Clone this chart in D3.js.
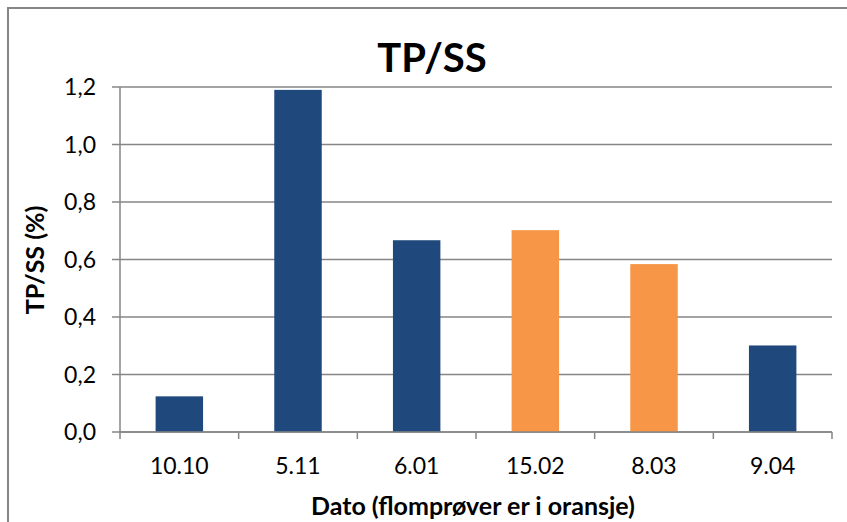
<!DOCTYPE html>
<html lang="no">
<head>
<meta charset="utf-8">
<title>TP/SS</title>
<script src="https://cdn.jsdelivr.net/npm/d3@7"></script>
<style>
  body { margin: 0; background: #fff; }
  text { font-family: Lato, "Open Sans", sans-serif; fill: #000; }
</style>
</head>
<body>
<script>
// data
var dates = ["10.10", "5.11", "6.01", "15.02", "8.03", "9.04"];
var values = [0.124, 1.19, 0.667, 0.702, 0.584, 0.301];
var flood = [false, false, false, true, true, false];   // flomprøver (oransje)
var yTicks = [0, 0.2, 0.4, 0.6, 0.8, 1.0, 1.2];

var w = 847, h = 522;
var plotL = 120, plotR = 832, plotT = 87, plotB = 432;

var svg = d3.select("body").append("svg")
    .attr("width", w)
    .attr("height", h);

// chart border (right and bottom edges fall outside the picture)
svg.append("rect")
    .attr("x", 8).attr("y", 8)
    .attr("width", 860).attr("height", 540)
    .attr("fill", "none")
    .attr("stroke", "#868686")
    .attr("stroke-width", 2);

var x = d3.scaleBand()
    .domain(dates)
    .range([plotL, plotR])
    .paddingInner(0.6)
    .paddingOuter(0.3);

var y = d3.scaleLinear()
    .domain([0, 1.2])
    .range([plotB, plotT]);

var fmt = function(d) { return d3.format(".1f")(d).replace(".", ","); };

// gridlines + y ticks
svg.selectAll("line.grid")
    .data(yTicks)
    .enter().append("line")
    .attr("class", "grid")
    .attr("x1", plotL - 8).attr("x2", plotR)
    .attr("y1", function(d) { return y(d); })
    .attr("y2", function(d) { return y(d); })
    .attr("stroke", "#868686")
    .attr("stroke-width", 1.5);

svg.selectAll("text.ytick")
    .data(yTicks)
    .enter().append("text")
    .attr("class", "ytick")
    .attr("x", plotL - 24)
    .attr("y", function(d) { return y(d); })
    .attr("dy", "0.35em")
    .attr("text-anchor", "end")
    .style("font-size", "23px")
    .text(fmt);

// bars
svg.selectAll("rect.bar")
    .data(values)
    .enter().append("rect")
    .attr("class", "bar")
    .attr("x", function(d, i) { return x(dates[i]); })
    .attr("width", x.bandwidth())
    .attr("y", function(d) { return y(d); })
    .attr("height", function(d) { return y(0) - y(d); })
    .attr("fill", function(d, i) { return flood[i] ? "#F79646" : "#1F497D"; });

// y axis line
svg.append("line")
    .attr("x1", plotL).attr("x2", plotL)
    .attr("y1", plotT).attr("y2", plotB)
    .attr("stroke", "#868686")
    .attr("stroke-width", 1.5);

// x axis line and ticks at category boundaries
svg.append("line")
    .attr("x1", plotL).attr("x2", plotR)
    .attr("y1", plotB).attr("y2", plotB)
    .attr("stroke", "#868686")
    .attr("stroke-width", 1.5);

var bounds = dates.map(function(d) { return x(d) - x.step() * 0.3; }).concat([plotR]);
svg.selectAll("line.xtick")
    .data(bounds)
    .enter().append("line")
    .attr("class", "xtick")
    .attr("x1", function(d) { return d; })
    .attr("x2", function(d) { return d; })
    .attr("y1", plotB).attr("y2", plotB + 7)
    .attr("stroke", "#868686")
    .attr("stroke-width", 1.5);

svg.selectAll("text.xtick")
    .data(dates)
    .enter().append("text")
    .attr("class", "xtick")
    .attr("x", function(d) { return x(d) + x.bandwidth() / 2; })
    .attr("y", 466)
    .attr("dy", "0.35em")
    .attr("text-anchor", "middle")
    .style("font-size", "23px")
    .text(function(d) { return d; });

// titles
svg.append("text")
    .attr("x", 432).attr("y", 58)
    .attr("dy", "0.35em")
    .attr("text-anchor", "middle")
    .style("font-size", "40px")
    .style("font-weight", "bold")
    .text("TP/SS");

svg.append("text")
    .attr("x", 473).attr("y", 506)
    .attr("dy", "0.35em")
    .attr("text-anchor", "middle")
    .style("font-size", "25px")
    .style("font-weight", "bold")
    .text("Dato (flomprøver er i oransje)");

svg.append("text")
    .attr("transform", "translate(35,260) rotate(-90)")
    .attr("dy", "0.35em")
    .attr("text-anchor", "middle")
    .style("font-size", "25px")
    .style("font-weight", "bold")
    .text("TP/SS (%)");
</script>
</body>
</html>
